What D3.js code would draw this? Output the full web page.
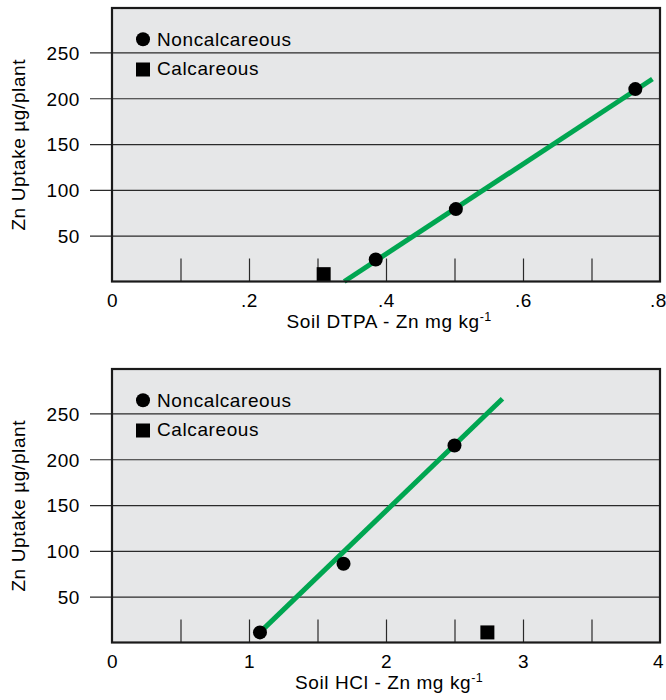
<!DOCTYPE html>
<meta charset="utf-8">
<style>
body { margin: 0; background: #fff; }
svg { display: block; }
text { font-family: "Liberation Sans", Arial, Helvetica, sans-serif; font-size: 19px; letter-spacing: 0.6px; fill: #000; }
.frame { fill: none; stroke: #1a1a1a; stroke-width: 2.2px; }
.grid line { stroke: #2a2a2a; stroke-width: 1.2px; }
.grid path, .xlab path, .xin path { display: none; }
.xin line { stroke: #2a2a2a; stroke-width: 1.2px; }
.fit { fill: none; stroke: #00a651; stroke-width: 5px; }
</style>
<body>
<script src="https://cdnjs.cloudflare.com/ajax/libs/d3/7.8.5/d3.min.js"></script>
<script>
// values
var yTicks = [50, 100, 150, 200, 250];

var dtpaTicks = [0, 0.2, 0.4, 0.6, 0.8],
    dtpaTickLabels = ["0", ".2", ".4", ".6", ".8"],
    dtpaMinor = [0.1, 0.2, 0.3, 0.4, 0.5, 0.6, 0.7];
var dtpaNoncalc = [{x: 0.385, y: 24}, {x: 0.502, y: 79}, {x: 0.764, y: 210}];
var dtpaCalc = [{x: 0.309, y: 8}];
var dtpaFit = [{x: 0.339, y: 0}, {x: 0.789, y: 221}];

var hclTicks = [0, 1, 2, 3, 4],
    hclTickLabels = ["0", "1", "2", "3", "4"],
    hclMinor = [0.5, 1, 1.5, 2, 2.5, 3, 3.5];
var hclNoncalc = [{x: 1.08, y: 11}, {x: 1.69, y: 86}, {x: 2.5, y: 215}];
var hclCalc = [{x: 2.74, y: 11}];
var hclFit = [{x: 1.093, y: 13}, {x: 2.85, y: 266}];

var W = 666, H = 700;
var left = 112, width = 548, height = 273.5;

var svg = d3.select("body").append("svg")
    .attr("width", W)
    .attr("height", H);

panel(8, [0, 0.8], dtpaTicks, dtpaTickLabels, dtpaMinor, dtpaNoncalc, dtpaCalc, dtpaFit, "Soil DTPA - Zn mg kg");
panel(369, [0, 4], hclTicks, hclTickLabels, hclMinor, hclNoncalc, hclCalc, hclFit, "Soil HCl - Zn mg kg");

function panel(top, xDomain, ticks, tickLabels, minor, noncalc, calc, fit, xTitle) {
  var g = svg.append("g").attr("transform", "translate(" + left + "," + top + ")");

  var x = d3.scaleLinear().domain(xDomain).range([0, width]),
      y = d3.scaleLinear().domain([0, 298.5]).range([height, 0]);

  g.append("rect")
      .attr("width", width)
      .attr("height", height)
      .attr("fill", "#e6e7e8");

  // horizontal grid running out past the frame on the left
  var grid = g.append("g")
      .attr("class", "grid")
      .call(d3.axisLeft(y).tickValues(yTicks).tickSize(-width).tickPadding(32));
  grid.selectAll("line").attr("x1", -22);
  grid.selectAll("text").attr("dy", "0.36em").attr("fill", "#000");

  // short inner ticks along the bottom
  g.append("g")
      .attr("class", "xin")
      .attr("transform", "translate(0," + height + ")")
      .call(d3.axisBottom(x).tickValues(minor).tickSize(-23).tickFormat(""));

  var lab = g.append("g")
      .attr("class", "xlab")
      .attr("transform", "translate(0," + height + ")")
      .call(d3.axisBottom(x).tickValues(ticks).tickSize(0).tickPadding(12)
        .tickFormat(function(d, i) { return tickLabels[i]; }));
  lab.selectAll("text").attr("fill", "#000");
  // last label sits against the page edge, keep it inside
  lab.selectAll(".tick:last-of-type text").attr("dx", "-2");

  var line = d3.line()
      .x(function(d) { return x(d.x); })
      .y(function(d) { return y(d.y); });

  g.append("path")
      .datum(fit)
      .attr("class", "fit")
      .attr("d", line);

  g.selectAll(".dot")
    .data(noncalc)
    .enter().append("circle")
      .attr("class", "dot")
      .attr("cx", function(d) { return x(d.x); })
      .attr("cy", function(d) { return y(d.y); })
      .attr("r", 7)
      .attr("fill", "#000");

  g.selectAll(".sq")
    .data(calc)
    .enter().append("rect")
      .attr("class", "sq")
      .attr("x", function(d) { return x(d.x) - 7; })
      .attr("y", function(d) { return y(d.y) - 7; })
      .attr("width", 14)
      .attr("height", 14)
      .attr("fill", "#000");

  g.append("rect")
      .attr("class", "frame")
      .attr("width", width)
      .attr("height", height);

  // legend
  g.append("circle").attr("cx", 31).attr("cy", 31.3).attr("r", 7).attr("fill", "#000");
  g.append("text").attr("x", 45).attr("y", 37.5).text("Noncalcareous");
  g.append("rect").attr("x", 24).attr("y", 54.5).attr("width", 14).attr("height", 14).attr("fill", "#000");
  g.append("text").attr("x", 45).attr("y", 67).text("Calcareous");

  // axis titles
  var xt = g.append("text")
      .attr("x", 277)
      .attr("y", height + 46)
      .attr("text-anchor", "middle")
      .text(xTitle);
  xt.append("tspan")
      .attr("dy", -7)
      .style("font-size", "12.5px")
      .style("letter-spacing", "0.3px")
      .text("-1");

  g.append("text")
      .attr("transform", "translate(" + (25 - left) + "," + (height / 2) + ") rotate(-90)")
      .attr("text-anchor", "middle")
      .text("Zn Uptake µg/plant");
}
</script>
